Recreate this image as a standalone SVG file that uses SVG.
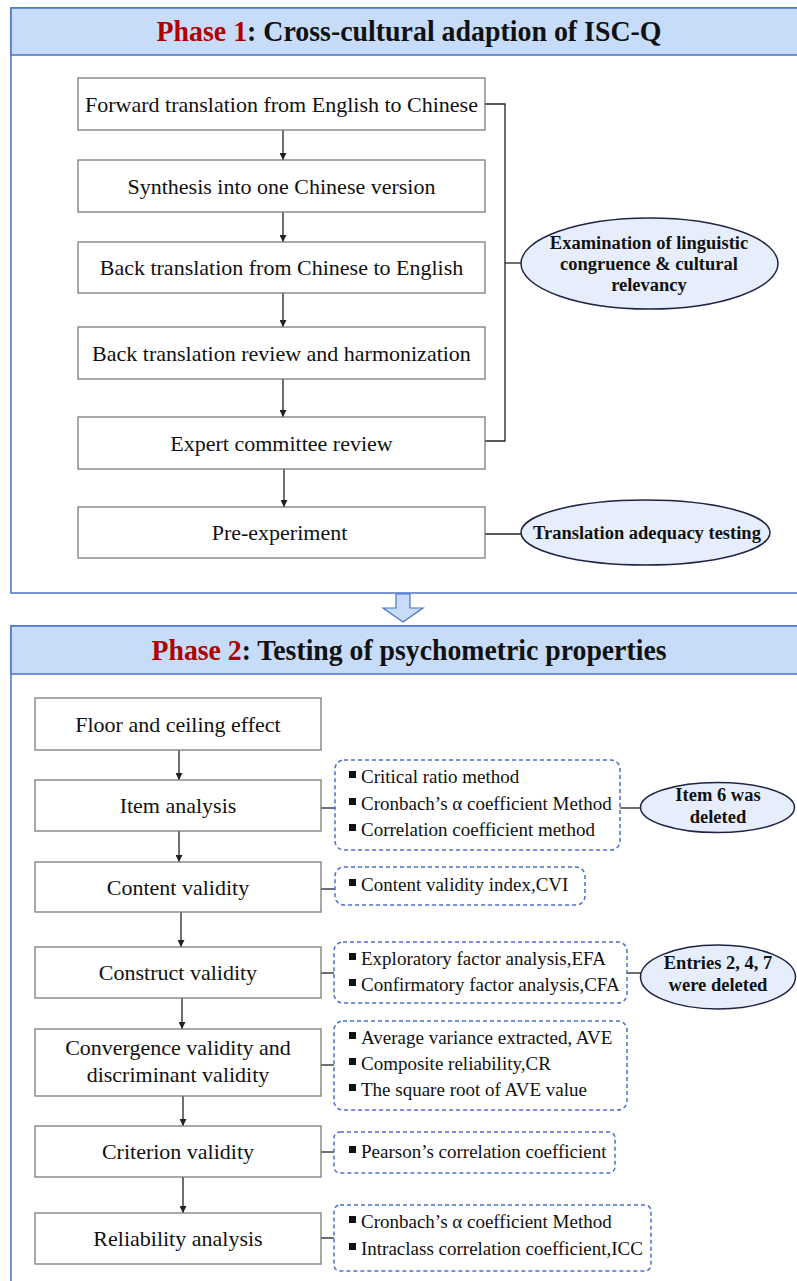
<svg xmlns="http://www.w3.org/2000/svg" width="797" height="1281" viewBox="0 0 797 1281">
<style>
text{font-family:"Liberation Serif","Times New Roman",serif;fill:#111;}
.panel{fill:#FFFFFF;stroke:#4A72C9;stroke-width:1.5;}
.band{fill:#C6DCF8;stroke:#4A72C9;stroke-width:1.5;}
.title{font-size:29px;font-weight:bold;text-anchor:middle;}
.red{fill:#B00000;}
.box{fill:#FFFFFF;stroke:#7A7A7A;stroke-width:1.3;}
.bt{font-size:22px;text-anchor:middle;}
.ell{fill:#E6EEFB;stroke:#1F2345;stroke-width:1.5;}
.et{font-size:18.5px;font-weight:bold;text-anchor:middle;}
.dot{fill:#FFFFFF;stroke:#4A6FD0;stroke-width:1.5;stroke-dasharray:4 3;}
.li{font-size:19px;}
.bul{fill:#111;}
.ln{fill:none;stroke:#222;stroke-width:1.3;}
</style>
<defs>
<marker id="ah" viewBox="0 0 10 10" refX="10" refY="5" markerWidth="7" markerHeight="7" markerUnits="userSpaceOnUse" orient="auto">
<path d="M0,0 L10,5 L0,10 z" fill="#222"/>
</marker>
</defs>

<g id="phase1-panel">
<rect class="panel" x="11" y="8" width="800" height="585"/>
<rect class="band" x="11" y="8" width="800" height="47"/>
<text class="title" x="409" y="41" textLength="505" lengthAdjust="spacingAndGlyphs"><tspan class="red">Phase 1</tspan>: Cross-cultural adaption of ISC-Q</text>
</g>

<g id="phase-arrow">
<polygon points="396,594 410,594 410,608 423,608 403,622 383,608 396,608" fill="#C6DCF8" stroke="#4A72C9" stroke-width="1.2"/>
</g>

<g id="phase2-panel">
<rect class="panel" x="11" y="626" width="800" height="670"/>
<rect class="band" x="11" y="626" width="800" height="48"/>
<text class="title" x="409" y="660" textLength="515" lengthAdjust="spacingAndGlyphs"><tspan class="red">Phase 2</tspan>: Testing of psychometric properties</text>
</g>

<g id="connectors">
<line class="ln" x1="283" y1="130" x2="283" y2="160" marker-end="url(#ah)"/>
<line class="ln" x1="283" y1="212" x2="283" y2="242" marker-end="url(#ah)"/>
<line class="ln" x1="283" y1="293" x2="283" y2="327" marker-end="url(#ah)"/>
<line class="ln" x1="283" y1="379" x2="283" y2="417" marker-end="url(#ah)"/>
<line class="ln" x1="284" y1="469" x2="284" y2="507" marker-end="url(#ah)"/>
<polyline class="ln" points="485,104 505,104 505,441 485,441"/>
<line class="ln" x1="505" y1="263" x2="521" y2="263"/>
<line class="ln" x1="485" y1="534" x2="521" y2="534"/>

<line class="ln" x1="179" y1="750" x2="179" y2="780" marker-end="url(#ah)"/>
<line class="ln" x1="179" y1="831" x2="179" y2="862" marker-end="url(#ah)"/>
<line class="ln" x1="181" y1="912" x2="181" y2="947" marker-end="url(#ah)"/>
<line class="ln" x1="182" y1="998" x2="182" y2="1029" marker-end="url(#ah)"/>
<line class="ln" x1="183" y1="1096" x2="183" y2="1126" marker-end="url(#ah)"/>
<line class="ln" x1="183" y1="1177" x2="183" y2="1213" marker-end="url(#ah)"/>

<line class="ln" x1="321" y1="808" x2="335" y2="808"/>
<line class="ln" x1="321" y1="889" x2="335" y2="889"/>
<line class="ln" x1="321" y1="973" x2="334" y2="973"/>
<line class="ln" x1="321" y1="1065" x2="334" y2="1065"/>
<line class="ln" x1="321" y1="1152" x2="334" y2="1152"/>
<line class="ln" x1="321" y1="1238" x2="334" y2="1238"/>
<line class="ln" x1="620" y1="808" x2="640" y2="808"/>
<line class="ln" x1="627" y1="973" x2="641" y2="973"/>
</g>

<g id="n-forward"><rect class="box" x="78" y="78" width="407" height="52"/><text class="bt" x="281.5" y="111.5">Forward translation from English to Chinese</text></g>
<g id="n-synthesis"><rect class="box" x="78" y="160" width="407" height="52"/><text class="bt" x="281.5" y="193.5">Synthesis into one Chinese version</text></g>
<g id="n-back"><rect class="box" x="78" y="242" width="407" height="51"/><text class="bt" x="281.5" y="275">Back translation from Chinese to English</text></g>
<g id="n-review"><rect class="box" x="78" y="327" width="407" height="52"/><text class="bt" x="281.5" y="360.5">Back translation review and harmonization</text></g>
<g id="n-expert"><rect class="box" x="78" y="417" width="407" height="52"/><text class="bt" x="281.5" y="450.5">Expert committee review</text></g>
<g id="n-pre"><rect class="box" x="78" y="507" width="407" height="51"/><text class="bt" x="279.5" y="540">Pre-experiment</text></g>

<g id="n-examination"><ellipse class="ell" cx="649.5" cy="263.5" rx="128.5" ry="45.5"/>
<text class="et" x="649" y="249">Examination of linguistic</text>
<text class="et" x="649" y="270">congruence &amp; cultural</text>
<text class="et" x="649" y="291">relevancy</text></g>
<g id="n-adequacy"><ellipse class="ell" cx="645.5" cy="532.5" rx="124.5" ry="32.5"/>
<text class="et" x="647" y="539">Translation adequacy testing</text></g>

<g id="n-floor"><rect class="box" x="35" y="698" width="286" height="52"/><text class="bt" x="178" y="731.5">Floor and ceiling effect</text></g>
<g id="n-item"><rect class="box" x="35" y="780" width="286" height="51"/><text class="bt" x="178" y="813">Item analysis</text></g>
<g id="n-content"><rect class="box" x="35" y="862" width="286" height="50"/><text class="bt" x="178" y="894.5">Content validity</text></g>
<g id="n-construct"><rect class="box" x="35" y="947" width="286" height="51"/><text class="bt" x="178" y="980">Construct validity</text></g>
<g id="n-convergence"><rect class="box" x="35" y="1029" width="286" height="67"/><text class="bt" x="178" y="1055">Convergence validity and</text><text class="bt" x="178" y="1082">discriminant validity</text></g>
<g id="n-criterion"><rect class="box" x="35" y="1126" width="286" height="51"/><text class="bt" x="178" y="1159">Criterion validity</text></g>
<g id="n-reliability"><rect class="box" x="35" y="1213" width="286" height="51"/><text class="bt" x="178" y="1246">Reliability analysis</text></g>

<g id="d-item"><rect class="dot" x="335" y="760" width="285" height="90" rx="9"/>
<rect class="bul" x="349" y="771" width="7" height="7"/><text class="li" x="361" y="783">Critical ratio method</text>
<rect class="bul" x="349" y="798" width="7" height="7"/><text class="li" x="361" y="810">Cronbach’s α coefficient Method</text>
<rect class="bul" x="349" y="824" width="7" height="7"/><text class="li" x="361" y="836">Correlation coefficient method</text></g>
<g id="d-content"><rect class="dot" x="335" y="867" width="250" height="38" rx="9"/>
<rect class="bul" x="349" y="879" width="7" height="7"/><text class="li" x="361" y="891">Content validity index,CVI</text></g>
<g id="d-construct"><rect class="dot" x="334" y="942" width="293" height="61" rx="9"/>
<rect class="bul" x="349" y="953" width="7" height="7"/><text class="li" x="361" y="965">Exploratory factor analysis,EFA</text>
<rect class="bul" x="349" y="979" width="7" height="7"/><text class="li" x="361" y="991">Confirmatory factor analysis,CFA</text></g>
<g id="d-convergence"><rect class="dot" x="334" y="1021" width="293" height="89" rx="9"/>
<rect class="bul" x="349" y="1032" width="7" height="7"/><text class="li" x="361" y="1044">Average variance extracted, AVE</text>
<rect class="bul" x="349" y="1058" width="7" height="7"/><text class="li" x="361" y="1070">Composite reliability,CR</text>
<rect class="bul" x="349" y="1084" width="7" height="7"/><text class="li" x="361" y="1096">The square root of AVE value</text></g>
<g id="d-criterion"><rect class="dot" x="334" y="1132" width="281" height="41" rx="6"/>
<rect class="bul" x="349" y="1146" width="7" height="7"/><text class="li" x="361" y="1158">Pearson’s correlation coefficient</text></g>
<g id="d-reliability"><rect class="dot" x="334" y="1205" width="317" height="66" rx="6"/>
<rect class="bul" x="349" y="1216" width="7" height="7"/><text class="li" x="361" y="1228">Cronbach’s α coefficient Method</text>
<rect class="bul" x="349" y="1243" width="7" height="7"/><text class="li" x="361" y="1255">Intraclass correlation coefficient,ICC</text></g>

<g id="n-item6"><ellipse class="ell" cx="717.5" cy="807.5" rx="77" ry="25"/>
<text class="et" x="718" y="801">Item 6 was</text><text class="et" x="718" y="823">deleted</text></g>
<g id="n-entries"><ellipse class="ell" cx="718" cy="977" rx="77.5" ry="32"/>
<text class="et" x="718" y="969">Entries 2, 4, 7</text><text class="et" x="718" y="991">were deleted</text></g>
</svg>
